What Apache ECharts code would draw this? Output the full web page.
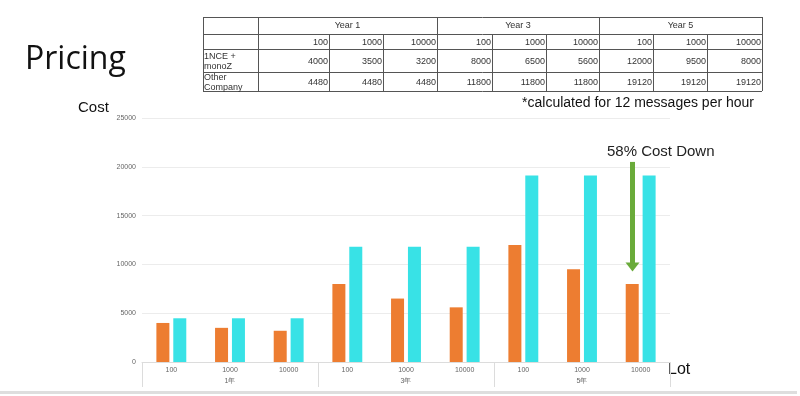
<!DOCTYPE html>
<html>
<head>
<meta charset="utf-8">
<script src="https://cdn.jsdelivr.net/npm/echarts@6/dist/echarts.min.js"></script>
<style>
  html, body { margin: 0; padding: 0; background: #fff; }
  #main { width: 800px; height: 396px; }
</style>
</head>
<body>
<div id="main"></div>
<script>
  // data
  var lots = ['100', '1000', '10000', '100', '1000', '10000', '100', '1000', '10000'];
  var years = ['1年', '3年', '5年'];
  var tableYears = ['Year 1', 'Year 3', 'Year 5'];
  var nceValues = [4000, 3500, 3200, 8000, 6500, 5600, 12000, 9500, 8000];
  var otherValues = [4480, 4480, 4480, 11800, 11800, 11800, 19120, 19120, 19120];
  var rowNames = ['1NCE +\nmonoZ', 'Other\nCompany'];
  // arrow: from / to values on the last 1NCE bar
  var arrowIndex = 8;
  var arrowFrom = 20500;
  var arrowTo = 10200;

  var chart = echarts.init(document.getElementById('main'));

  // table layout (pixels)
  var colX = [203, 258, 329, 383, 437, 492, 546, 599, 653, 707, 762];
  var rowY = [17, 34, 49, 72, 91];
  var lineColor = '#555';
  var tFont = '"Liberation Sans", Arial, sans-serif';
  var gridL = 142, gridR = 130, gridT = 118, gridB = 34;

  function tableGraphics() {
    var g = [];
    var L = colX[0], R = colX[colX.length - 1];
    rowY.forEach(function (y) {
      g.push({ type: 'line', shape: { x1: L, y1: y + 0.5, x2: R, y2: y + 0.5 }, style: { stroke: lineColor, lineWidth: 1 } });
    });
    colX.forEach(function (x, i) {
      var full = (i === 0 || i === 1 || i === 4 || i === 7 || i === 10);
      g.push({ type: 'line', shape: { x1: x + 0.5, y1: full ? rowY[0] : rowY[1], x2: x + 0.5, y2: rowY[4] }, style: { stroke: lineColor, lineWidth: 1 } });
    });
    tableYears.forEach(function (t, i) {
      g.push({ type: 'text', x: (colX[1 + i * 3] + colX[4 + i * 3]) / 2, y: (rowY[0] + rowY[1]) / 2,
        style: { text: t, font: '9px ' + tFont, fill: '#333', align: 'center', verticalAlign: 'middle' } });
    });
    var rows = [lots, nceValues, otherValues];
    rows.forEach(function (arr, r) {
      arr.forEach(function (v, i) {
        g.push({ type: 'text', x: colX[i + 2] - 1, y: (rowY[r + 1] + rowY[r + 2]) / 2 + 1,
          style: { text: String(v), font: '9px ' + tFont, fill: '#333', align: 'right', verticalAlign: 'middle' } });
      });
    });
    rowNames.forEach(function (n, r) {
      g.push({ type: 'text', x: L + 1, y: (rowY[r + 2] + rowY[r + 3]) / 2 + 1,
        style: { text: n, font: '9px ' + tFont, fill: '#333', align: 'left', verticalAlign: 'middle', lineHeight: 10 } });
    });
    return g;
  }

  var option = {
    animation: false,
    color: ['#ED7D31', '#38E2E6'],
    grid: { left: gridL, right: gridR, top: gridT, bottom: gridB },
    xAxis: [
      {
        type: 'category',
        data: lots,
        axisLine: { lineStyle: { color: '#dcdcdc' } },
        axisTick: { show: false },
        axisLabel: { fontSize: 7, color: '#666', margin: 5, fontFamily: tFont }
      },
      {
        type: 'category',
        data: years,
        position: 'bottom',
        axisLine: { show: false },
        axisTick: { show: true, length: 25, lineStyle: { color: '#dcdcdc' } },
        axisLabel: { fontSize: 7, color: '#666', margin: 16, fontFamily: tFont }
      }
    ],
    yAxis: {
      type: 'value',
      min: 0,
      max: 25000,
      interval: 5000,
      axisLine: { show: false },
      axisTick: { show: false },
      axisLabel: { fontSize: 7, color: '#666', margin: 6, fontFamily: tFont, formatter: function (v) { return String(v); } },
      splitLine: { lineStyle: { color: '#ececec' } }
    },
    series: [
      { name: '1NCE + monoZ', type: 'bar', data: nceValues, barWidth: 13, barGap: '30%' },
      { name: 'Other Company', type: 'bar', data: otherValues, barWidth: 13, barGap: '30%' }
    ],
    graphic: [
      { type: 'text', x: 25, y: 60, style: { text: 'Pricing', font: '32px "Open Sans", sans-serif', fill: '#111', verticalAlign: 'middle' } },
      { type: 'text', x: 78, y: 108, style: { text: 'Cost', font: '15px ' + tFont, fill: '#111', verticalAlign: 'middle' } },
      { type: 'text', x: 668, y: 370, style: { text: 'Lot', font: '16px ' + tFont, fill: '#111', verticalAlign: 'middle' } },
      { type: 'text', x: 754, y: 103, style: { text: '*calculated for 12 messages per hour', font: '14px ' + tFont, fill: '#111', align: 'right', verticalAlign: 'middle' } },
      { type: 'rect', shape: { x: 0, y: 391, width: 797, height: 3 }, style: { fill: '#dedede' } }
    ].concat(tableGraphics())
  };

  chart.setOption(option);

  // annotation arrow over the last orange bar (bar sits left of the category centre)
  var catW = (800 - gridL - gridR) / lots.length;
  var ax = Math.round(gridL + (arrowIndex + 0.5) * catW - 8.5);
  var y1 = chart.convertToPixel({ yAxisIndex: 0 }, arrowFrom);
  var y2 = chart.convertToPixel({ yAxisIndex: 0 }, arrowTo);
  chart.setOption({
    graphic: option.graphic.concat([
      { type: 'text', x: ax - 25, y: 152, z: 100, style: { text: '58% Cost Down', font: '15px ' + tFont, fill: '#222', verticalAlign: 'middle' } },
      { type: 'rect', z: 100, shape: { x: ax - 2, y: y1, width: 5, height: y2 - y1 + 1 }, style: { fill: '#6AAB3A' } },
      { type: 'polygon', z: 100, shape: { points: [[ax - 6.5, y2], [ax + 7.5, y2], [ax + 0.5, y2 + 9]] }, style: { fill: '#6AAB3A' } }
    ])
  });

  window.addEventListener('resize', function () {
    chart.resize();
  });
</script>
</body>
</html>
